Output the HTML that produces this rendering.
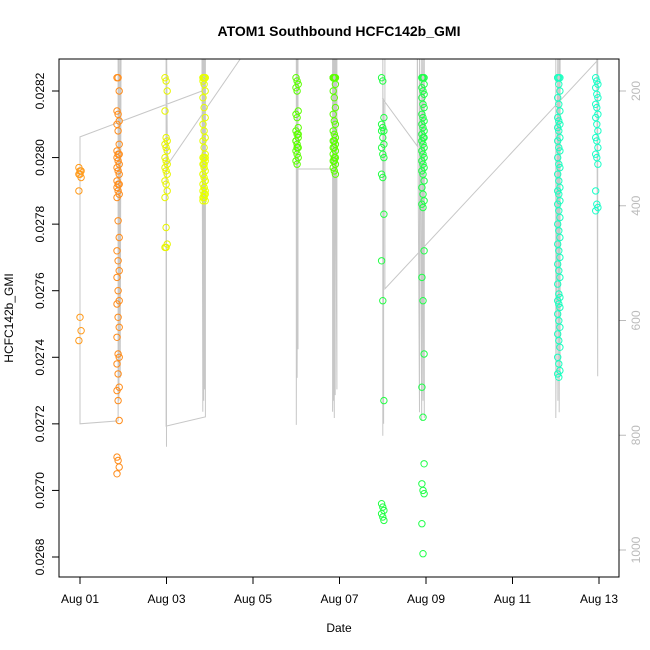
<!DOCTYPE html>
<html><head><meta charset="utf-8"><style>
html,body{margin:0;padding:0;background:#fff}
svg{display:block;font-family:"Liberation Sans",sans-serif}
</style></head><body>
<svg id="chart" width="650" height="650" viewBox="0 0 650 650" xmlns="http://www.w3.org/2000/svg">
<text x="339" y="36" text-anchor="middle" font-size="14" font-weight="bold">ATOM1 Southbound HCFC142b_GMI</text>
<text x="339" y="632" text-anchor="middle" font-size="12">Date</text>
<text x="0" y="0" transform="translate(13,318) rotate(-90)" text-anchor="middle" font-size="12">HCFC142b_GMI</text>
<defs><clipPath id="pc"><rect x="59" y="59" width="560" height="518"/></clipPath></defs>
<g id="pressure" clip-path="url(#pc)"></g>
<g id="points" clip-path="url(#pc)"></g>
<g id="axes"></g>
<rect x="59" y="59" width="560" height="518" fill="none" stroke="#000" stroke-width="1"/>
</svg>
<script>
// ---- data ----
const flightDays = [0.0, 0.88, 1.99, 2.87, 5.02, 5.88, 7.0, 7.93, 11.07, 11.95];
const flightColors = ["#FF9A1A","#FF8C1A","#E8F500","#E6FF00","#5CFF00","#5CFF00","#22FF44","#1EFF48","#1AFFC0","#1AFFC8"];
const f0 = [0.02797,0.02796,0.02796,0.02795,0.02795,0.02794,0.02790,0.02752,0.02748,0.02745];
const f1 = [0.02824,0.02824,0.02820,0.02814,0.02813,0.02811,0.02810,0.02808,0.02804,0.02802,0.02801,0.02801,0.02800,0.02799,0.02798,0.02797,0.02796,0.02795,0.02793,0.02792,0.02792,0.02791,0.02790,0.02789,0.02788,0.02781,0.02776,0.02772,0.02769,0.02766,0.02764,0.02760,0.02757,0.02756,0.02752,0.02749,0.02746,0.02741,0.02740,0.02738,0.02735,0.02731,0.02730,0.02727,0.02721,0.02710,0.02709,0.02707,0.02705];
const f2 = [0.02824,0.02823,0.02820,0.02814,0.02806,0.02805,0.02804,0.02803,0.02802,0.02800,0.02799,0.02798,0.02797,0.02796,0.02795,0.02793,0.02792,0.02790,0.02788,0.02779,0.02774,0.02773,0.02773];
const f3 = [0.02824,0.02824,0.02824,0.02824,0.02824,0.02824,0.02823,0.02822,0.02820,0.02818,0.02815,0.02812,0.02810,0.02808,0.02806,0.02805,0.02803,0.02801,0.02800,0.02800,0.02799,0.02798,0.02797,0.02796,0.02795,0.02794,0.02793,0.02792,0.02791,0.02790,0.02790,0.02789,0.02789,0.02788,0.02788,0.02787,0.02787,0.02791,0.02793,0.02795,0.02798,0.02800];
const f4 = [0.02824,0.02823,0.02822,0.02821,0.02820,0.02814,0.02813,0.02812,0.02809,0.02808,0.02807,0.02806,0.02805,0.02804,0.02803,0.02802,0.02801,0.02800,0.02799,0.02798,0.02807,0.02805,0.02803];
const f5 = [0.02824,0.02824,0.02824,0.02824,0.02824,0.02824,0.02824,0.02824,0.02822,0.02820,0.02818,0.02815,0.02813,0.02811,0.02810,0.02808,0.02807,0.02806,0.02805,0.02805,0.02804,0.02803,0.02803,0.02802,0.02801,0.02800,0.02800,0.02799,0.02799,0.02798,0.02797,0.02796,0.02795];
const f6 = [0.02824,0.02823,0.02812,0.02810,0.02809,0.02808,0.02808,0.02806,0.02804,0.02803,0.02801,0.02800,0.02795,0.02794,0.02783,0.02769,0.02757,0.02727,0.02696,0.02695,0.02694,0.02693,0.02692,0.02691];
const f7 = [0.02824,0.02824,0.02824,0.02824,0.02824,0.02822,0.02821,0.02820,0.02819,0.02818,0.02816,0.02815,0.02813,0.02812,0.02811,0.02810,0.02809,0.02808,0.02807,0.02806,0.02806,0.02805,0.02804,0.02803,0.02802,0.02801,0.02800,0.02799,0.02798,0.02797,0.02796,0.02795,0.02793,0.02791,0.02789,0.02787,0.02786,0.02785,0.02772,0.02764,0.02757,0.02741,0.02731,0.02722,0.02708,0.02702,0.02700,0.02699,0.02690,0.02681];
const f8 = [0.02824,0.02824,0.02824,0.02824,0.02822,0.02820,0.02818,0.02816,0.02814,0.02812,0.02811,0.02810,0.02809,0.02808,0.02806,0.02805,0.02803,0.02802,0.02800,0.02798,0.02797,0.02795,0.02793,0.02791,0.02790,0.02789,0.02787,0.02786,0.02784,0.02782,0.02780,0.02778,0.02776,0.02774,0.02772,0.02770,0.02768,0.02766,0.02764,0.02762,0.02759,0.02758,0.02757,0.02756,0.02755,0.02753,0.02751,0.02749,0.02747,0.02745,0.02743,0.02740,0.02738,0.02736,0.02735,0.02734];
const f9 = [0.02824,0.02823,0.02822,0.02821,0.02819,0.02818,0.02816,0.02815,0.02813,0.02812,0.02810,0.02808,0.02806,0.02805,0.02803,0.02801,0.02800,0.02798,0.02790,0.02786,0.02785,0.02784];
const flightValues = [f0,f1,f2,f3,f4,f5,f6,f7,f8,f9];
// pressure trace: day, hPa (pairs listed in order)
const presDays = [0.88,0.88,0.90,0.90,0.93,0.93,0.95,0.88,0.0,0.0,2.82,2.82,2.84,2.84,2.86,2.86,2.88,2.88,2.90,2.90,1.99,1.99,2.0,2.0,2.02,4.2,5.0,5.0,5.02,5.02,5.04,5.04,5.0,5.92,5.92,5.84,5.84,5.86,5.86,5.88,5.88,5.90,5.90,5.94,5.94,7.0,7.0,7.0,7.02,7.02,7.0,7.8,7.8,7.85,7.85,7.9,7.9,7.93,7.93,7.96,7.96,7.05,7.05,11.95,11.95,11.97,11.97,11.0,11.0,11.05,11.05,11.08,11.08,11.1,11.1];
const presVals = [90,770,90,740,90,700,90,775,780,280,200,90,759,90,740,90,720,90,90,768,784,90,820,90,329,90,90,782,90,700,90,650,336,336,90,759,90,740,90,770,90,730,90,720,90,90,801,90,780,214,214,296,90,760,90,775,90,740,90,770,90,90,545,148,90,697,90,90,770,90,740,90,760,90,690];
const yLeftTicks = [0.0268,0.0270,0.0272,0.0274,0.0276,0.0278,0.0280,0.0282];
const yRightTicks = [200,400,600,800,1000];
const xTickDays = [0,2,4,6,8,10,12];
const xTickLabels = ["Aug 01","Aug 03","Aug 05","Aug 07","Aug 09","Aug 11","Aug 13"];

// ---- scales ----
const NS="http://www.w3.org/2000/svg";
const xS = d => 80 + d*43.25;
const yL = v => 91 + (0.0282 - v)/0.0002*66.57;
const yR = p => 91 + (p-200)*114.75/200;
function mk(tag, attrs, parent){const e=document.createElementNS(NS,tag);for(const k in attrs)e.setAttribute(k,attrs[k]);parent.appendChild(e);return e;}

// pressure
const pg=document.getElementById('pressure');
let pts=presDays.map((d,i)=>xS(d).toFixed(1)+","+yR(presVals[i]).toFixed(1)).join(" ");
const pl=mk('polyline',{points:pts,fill:'none',stroke:'#bdbdbd','stroke-width':1,'stroke-opacity':0.85},pg);



// points
const g=document.getElementById('points');
flightValues.forEach((vals,fi)=>{
  vals.forEach((v,i)=>{
    const c=mk('circle',{cx:(xS(flightDays[fi])+((i%3)-1)*1.1).toFixed(1),cy:yL(v).toFixed(1),r:3.2,fill:'none',stroke:flightColors[fi],'stroke-width':1},g);
    
    
  });
});

// axes
const ax=document.getElementById('axes');
yLeftTicks.forEach(t=>{
  const y=yL(t);
  mk('line',{x1:52,x2:59,y1:y,y2:y,stroke:'#000'},ax);
  const tx=mk('text',{x:0,y:0,transform:`translate(44,${y}) rotate(-90)`,'text-anchor':'middle','font-size':12},ax);
  tx.textContent=t.toFixed(4);
  
  
});
mk('line',{x1:59,x2:59,y1:yL(0.0268),y2:yL(0.0282),stroke:'#000'},ax);
yRightTicks.forEach(t=>{
  const y=yR(t);
  mk('line',{x1:619,x2:626,y1:y,y2:y,stroke:'#bbb'},ax);
  const tx=mk('text',{x:0,y:0,transform:`translate(640,${y}) rotate(-90)`,'text-anchor':'middle','font-size':12,fill:'#bbb'},ax);
  tx.textContent=t;
  
  
});
xTickDays.forEach((d,i)=>{
  const x=xS(d);
  mk('line',{x1:x,x2:x,y1:577,y2:584,stroke:'#000'},ax);
  const tx=mk('text',{x:x,y:603,'text-anchor':'middle','font-size':12},ax);
  tx.textContent=xTickLabels[i];
  
  
});
</script>
</body></html>
